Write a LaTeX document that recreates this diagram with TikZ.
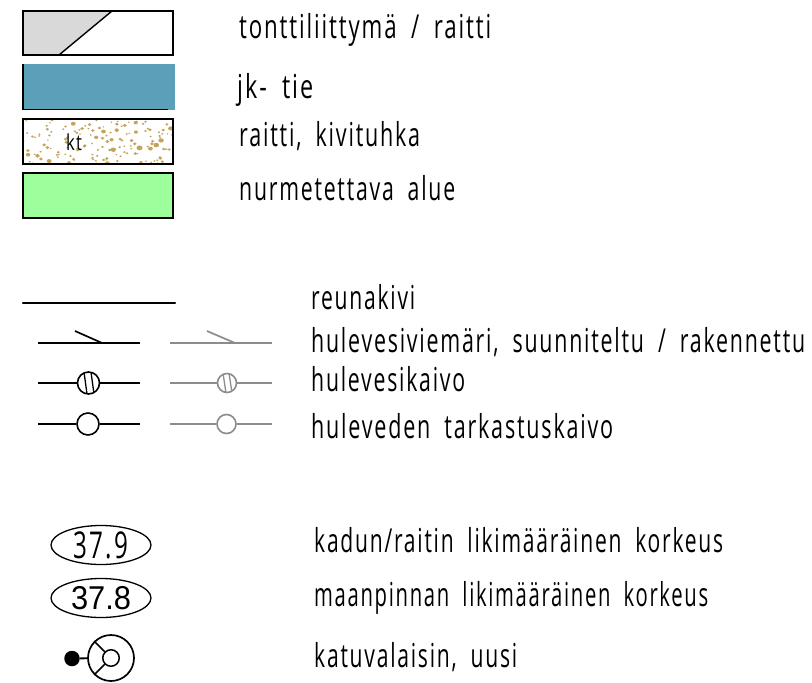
\documentclass[tikz,border=0pt]{standalone}
\usepackage{fontspec}
\usepackage{graphicx}
\setmainfont{Open Sans}
\newfontfamily\legendfont[FakeStretch=0.6,LetterSpace=5,WordSpace=1.9]{Open Sans}
\newfontfamily\numfont{Liberation Sans}
\newcommand{\fitw}[2]{\resizebox{#1pt}{\height}{#2}}
\definecolor{roadblue}{HTML}{5B9FB8}
\definecolor{grassgreen}{HTML}{9CFF9C}
\definecolor{gravel}{HTML}{C4A45C}
\definecolor{plotgrey}{HTML}{D9D9D9}
\definecolor{pipegrey}{HTML}{8C8C8C}
\usetikzlibrary{shapes.geometric}
\tikzset{
 swatch/.style={draw=black,line width=1.7pt},
 lab/.style={font=\legendfont\fontsize{33}{35}\selectfont,anchor=base west,inner sep=0pt,text=black},
 pipeB/.style={draw=black,line width=1.7pt},
 pipeG/.style={draw=pipegrey,line width=1.7pt},
 wellB/.style={circle,draw=black,line width=1.6pt,fill=white,minimum size=22pt,inner sep=0pt},
 wellG/.style={circle,draw=pipegrey,line width=1.6pt,fill=white,minimum size=19pt,inner sep=0pt},
 level/.style={ellipse,draw=black,line width=1.3pt,minimum width=100pt,minimum height=39pt,inner sep=0pt},
}
\begin{document}
\begin{tikzpicture}[x=1pt,y=-1pt]
\useasboundingbox (0,0) rectangle (812,683);
% swatches
\fill[plotgrey] (23,11) -- (112,11) -- (59,55) -- (23,55) -- cycle;
\draw[line width=1.4pt] (112,11) -- (59,55);
\node[swatch,minimum width=150pt,minimum height=44pt,inner sep=0pt] (plot) at (98,33) {};
\fill[roadblue] (23,64) rectangle (175,110);
\draw[line width=1.6pt] (23,64) -- (23,109.5) -- (168,109.5);
\begin{scope}
\clip (22,118) rectangle (176,165);
\pgfmathsetseed{4217}
\foreach \i in {1,...,150}{
  \pgfmathsetmacro{\px}{23+150*rnd}
  \pgfmathsetmacro{\py}{119+45*rnd}
  \pgfmathsetmacro{\pr}{0.9+2.2*rnd*rnd}
  \fill[gravel] (\px,\py) ellipse ({\pr pt} and {0.8*\pr pt});
}
\end{scope}
\node[swatch,minimum width=150pt,minimum height=45pt,inner sep=0pt] (track) at (98,141.5) {};
\node[font=\legendfont\fontsize{22}{22}\selectfont,inner sep=0pt,anchor=base] (kt) at (74,150) {\fitw{16}{kt}};
\node[swatch,fill=grassgreen,minimum width=150pt,minimum height=45pt,inner sep=0pt] (grass) at (98,195.5) {};
% labels col 1
\node[lab] (l1) at (239,38) {\fitw{252}{tonttiliittymä / raitti}};
\node[lab] (l2) at (237,98) {\fitw{76}{jk- tie}};
\node[lab] (l3) at (239,146) {\fitw{181}{raitti, kivituhka}};
\node[lab] (l4) at (239,200) {\fitw{216}{nurmetettava alue}};
% kerb
\coordinate (k1) at (23,303); \coordinate (k2) at (175,303);
\draw[line width=2.2pt,line cap=round] (k1) -- (k2);
% pipes
\coordinate (a1) at (38,343); \coordinate (a2) at (140,343); \coordinate (a3) at (102,343); \coordinate (a4) at (75,331);
\draw[pipeB] (a1) -- (a2); \draw[pipeB] (a4) -- (a3);
\coordinate (b1) at (170,343); \coordinate (b2) at (272,343); \coordinate (b3) at (235,343); \coordinate (b4) at (207,331);
\draw[pipeG] (b1) -- (b2); \draw[pipeG] (b4) -- (b3);
% gully
\coordinate (c1) at (38,383); \coordinate (c2) at (140,383);
\node[wellB] (w1) at (88.5,383) {};
\draw[pipeB] (c1) -- (w1); \draw[pipeB] (w1) -- (c2);
\begin{scope}\clip (88.5,383) circle (11pt);
\draw[line width=1.3pt] (84,372)--(87,394); \draw[line width=1.3pt] (91,372)--(94,394);
\end{scope}
\coordinate (d1) at (170,383); \coordinate (d2) at (272,383);
\node[wellG] (w2) at (227,383) {};
\draw[pipeG] (d1) -- (w2); \draw[pipeG] (w2) -- (d2);
\begin{scope}\clip (227,383) circle (9.5pt);
\draw[pipegrey,line width=1.3pt] (223,373)--(226,393); \draw[pipegrey,line width=1.3pt] (229,373)--(232,393);
\end{scope}
% inspection
\coordinate (e1) at (38,424); \coordinate (e2) at (140,424);
\node[wellB] (w3) at (88,424) {};
\draw[pipeB] (e1) -- (w3); \draw[pipeB] (w3) -- (e2);
\coordinate (f1) at (170,424); \coordinate (f2) at (272,424);
\node[wellG] (w4) at (226.5,424) {};
\draw[pipeG] (f1) -- (w4); \draw[pipeG] (w4) -- (f2);
% labels col 2
\node[lab] (l5) at (311,309) {\fitw{104}{reunakivi}};
\node[lab] (l6) at (311,352) {\fitw{494}{hulevesiviemäri, suunniteltu / rakennettu}};
\node[lab] (l7) at (311,391) {\fitw{154}{hulevesikaivo}};
\node[lab] (l8) at (311,438) {\fitw{302}{huleveden tarkastuskaivo}};
% levels
\node[level,font=\legendfont\fontsize{37}{37}\selectfont] (n1) at (101,545) {\fitw{54}{37.9}};
\node[level,font=\numfont\fontsize{33}{33}\selectfont] (n2) at (101,598) {\fitw{60}{37.8}};
% lamp
\node[circle,fill=black,minimum size=15.5pt,inner sep=0pt] (lamp) at (72,658.5) {};
\node[circle,draw=black,line width=1.7pt,minimum size=46pt,inner sep=0pt] (head) at (111,658) {};
\node[circle,draw=black,line width=1.5pt,minimum size=16.5pt,inner sep=0pt] (hub) at (111,658) {};
\draw[line width=1.8pt] (lamp) -- (head);
\draw[line width=1.5pt] (hub) -- (head.north west);
\draw[line width=1.5pt] (hub) -- (head.south west);
% labels col 3
\node[lab] (l9) at (314,552) {\fitw{409}{kadun/raitin likimääräinen korkeus}};
\node[lab] (l10) at (314,606) {\fitw{394}{maanpinnan likimääräinen korkeus}};
\node[lab] (l11) at (314,667) {\fitw{203}{katuvalaisin, uusi}};
\end{tikzpicture}
\end{document}
